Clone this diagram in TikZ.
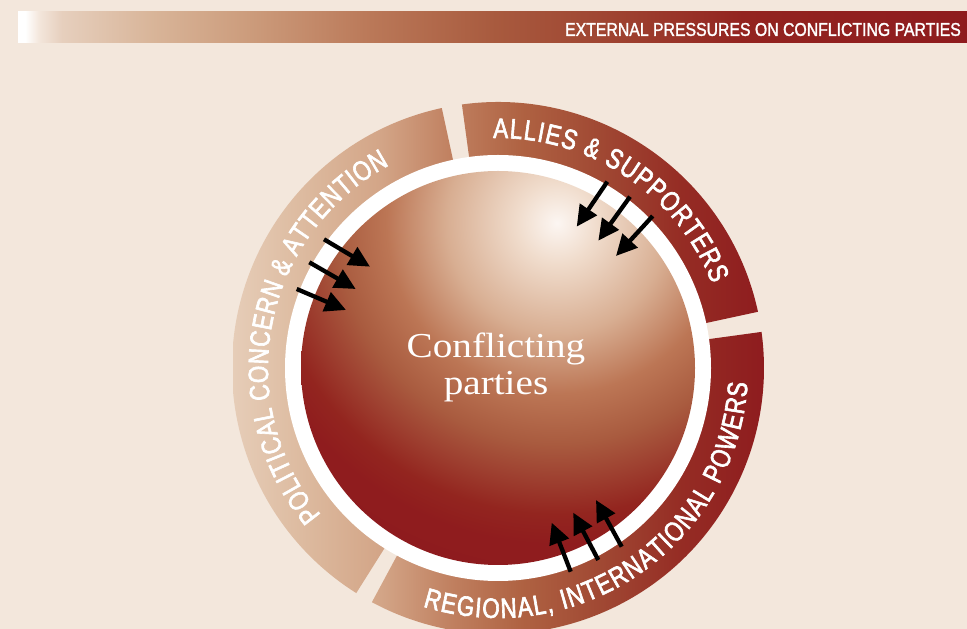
\documentclass[tikz,border=0pt]{standalone}
\usepackage{fontspec}
\setmainfont{Liberation Serif}
\newfontfamily\headfont[FakeStretch=0.85,FakeBold=1.6]{Liberation Sans}
\newfontfamily\ringfont[FakeStretch=0.8,FakeBold=2.2]{Liberation Sans}
\newfontfamily\ballfont[FakeStretch=1.12]{Liberation Serif}
\usetikzlibrary{decorations.text,arrows.meta}

% palette
\definecolor{paper}{HTML}{F3E7DC}
\definecolor{deepred}{HTML}{8E1B1E}
\definecolor{hb1}{HTML}{F3E6DB}
\definecolor{hb2}{HTML}{E6CFBD}
\definecolor{hb3}{HTML}{D8B498}
\definecolor{hb4}{HTML}{CC9C7C}
\definecolor{hb5}{HTML}{BA7858}
\definecolor{hb6}{HTML}{A85A3E}
\definecolor{hb7}{HTML}{9E4230}
\definecolor{hb8}{HTML}{932420}
\definecolor{rg0}{HTML}{E6CDB8}
\definecolor{rg1}{HTML}{DDBBA0}
\definecolor{rg2}{HTML}{D3A587}
\definecolor{rg3}{HTML}{C08060}
\definecolor{rg4}{HTML}{AF6242}
\definecolor{rg5}{HTML}{A04833}
\definecolor{rg6}{HTML}{952C24}
\definecolor{bl0}{HTML}{FCF6F2}
\definecolor{bl1}{HTML}{F0DCCC}
\definecolor{bl2}{HTML}{D8AE92}
\definecolor{bl3}{HTML}{BC7655}
\definecolor{bl4}{HTML}{A95B3F}
\definecolor{bl5}{HTML}{9E4030}
\definecolor{bl6}{HTML}{93251F}
\definecolor{bl7}{HTML}{8F1C1E}

% title band: white fading into deep red
\pgfdeclarehorizontalshading{headbar}{32bp}{color(0bp)=(white); color(8bp)=(white);
  color(22bp)=(hb1); color(45bp)=(hb2); color(137bp)=(hb3); color(230bp)=(hb4);
  color(353bp)=(hb5); color(477bp)=(hb6); color(600bp)=(hb7); color(723bp)=(hb8);
  color(955bp)=(deepred)}
% outer ring: light tan on the left to deep red on the right
\pgfdeclarehorizontalshading{ringglow}{560bp}{color(0bp)=(rg0); color(68bp)=(rg1);
  color(148bp)=(rg2); color(218bp)=(rg3); color(288bp)=(rg4); color(368bp)=(rg5);
  color(448bp)=(rg6); color(535bp)=(deepred)}
% sphere: bright spot fading into deep red
\pgfdeclareradialshading{ballglow}{\pgfpointorigin}{color(0bp)=(bl0); color(40bp)=(bl1);
  color(110bp)=(bl2); color(170bp)=(bl3); color(220bp)=(bl4); color(255bp)=(bl5);
  color(290bp)=(bl6); color(320bp)=(bl7); color(365bp)=(deepred)}

\tikzset{
  push/.style={line width=4.3pt,-{Triangle[length=21pt,width=20pt]}},
  ringlabel/.style={decorate,decoration={text along path,text color=white,
    text align={fit to path},text={|\ringfont\fontsize{28}{30}\selectfont|#1}}},
}

\begin{document}
\begin{tikzpicture}[x=1pt,y=1pt]
\useasboundingbox (0,0) rectangle (967,629);
\fill[paper] (0,0) rectangle (967,629);

% title band
\begin{scope}
  \clip (17,586) rectangle (967,617);
  \node[inner sep=0,anchor=west] (band) at (17,601.5) {\pgfuseshading{headbar}};
\end{scope}
\node[anchor=east,inner sep=0,text=white,font=\headfont\fontsize{18.6}{20}\selectfont]
  (title) at (961,599.5) {EXTERNAL PRESSURES ON CONFLICTING PARTIES};

\coordinate (O) at (498,261);

% three ring sectors
\foreach \a/\b in {12.2/97.8, 102.2/237.8, -118.3/7.8}{
  \begin{scope}
    \clip ([shift={(O)}]\a:266) arc[start angle=\a,end angle=\b,radius=266]
      -- ([shift={(O)}]\b:205) arc[start angle=\b,end angle=\a,radius=205] -- cycle;
    \node[inner sep=0,anchor=west] at (232,261) {\pgfuseshading{ringglow}};
  \end{scope}
}

% white rim and shaded sphere
\fill[white] (O) circle[radius=213];
\begin{scope}
  \clip (O) circle[radius=197];
  \node[inner sep=0] (glow) at (557,406) {\pgfuseshading{ballglow}};
\end{scope}

% centre label
\node[anchor=base,inner sep=0,text=white,font=\ballfont\fontsize{35}{37}\selectfont]
  (lab1) at (496,271) {Conflicting};
\node[anchor=base,inner sep=0,text=white,font=\ballfont\fontsize{35}{37}\selectfont]
  (lab2) at (496,234) {parties};

% ring labels
\path[ringlabel={POLITICAL CONCERN {\&} ATTENTION}]
  ([shift={(O)}]219.7:230) arc[start angle=219.7,end angle=118.2,radius=230];
\path[ringlabel={ALLIES {\&} SUPPORTERS}]
  ([shift={(O)}]91.2:230) arc[start angle=91.2,end angle=21.5,radius=230];
\path[ringlabel={REGIONAL, INTERNATIONAL POWERS}]
  ([shift={(O)}]-107.5:250) arc[start angle=-107.5,end angle=-3.4,radius=250];

% pressure arrows
\coordinate (p1) at (324,389.7);   \coordinate (q1) at (370,362.3);
\coordinate (p2) at (309.3,366.7); \coordinate (q2) at (355.7,340);
\coordinate (p3) at (296.7,340);   \coordinate (q3) at (346,319);
\coordinate (a1) at (607.3,447.3); \coordinate (b1) at (576.7,402.3);
\coordinate (a2) at (630,432.3);   \coordinate (b2) at (598.3,388.3);
\coordinate (a3) at (652.7,413);   \coordinate (b3) at (616,373);
\coordinate (r1) at (570.7,57.3);  \coordinate (s1) at (551.7,106.3);
\coordinate (r2) at (598.3,69);    \coordinate (s2) at (573.3,116.3);
\coordinate (r3) at (621.7,82.3);  \coordinate (s3) at (596,129);
\foreach \u/\v in {p1/q1,p2/q2,p3/q3,a1/b1,a2/b2,a3/b3,r1/s1,r2/s2,r3/s3}
  \draw[push] (\u) -- (\v);
\end{tikzpicture}
\end{document}
